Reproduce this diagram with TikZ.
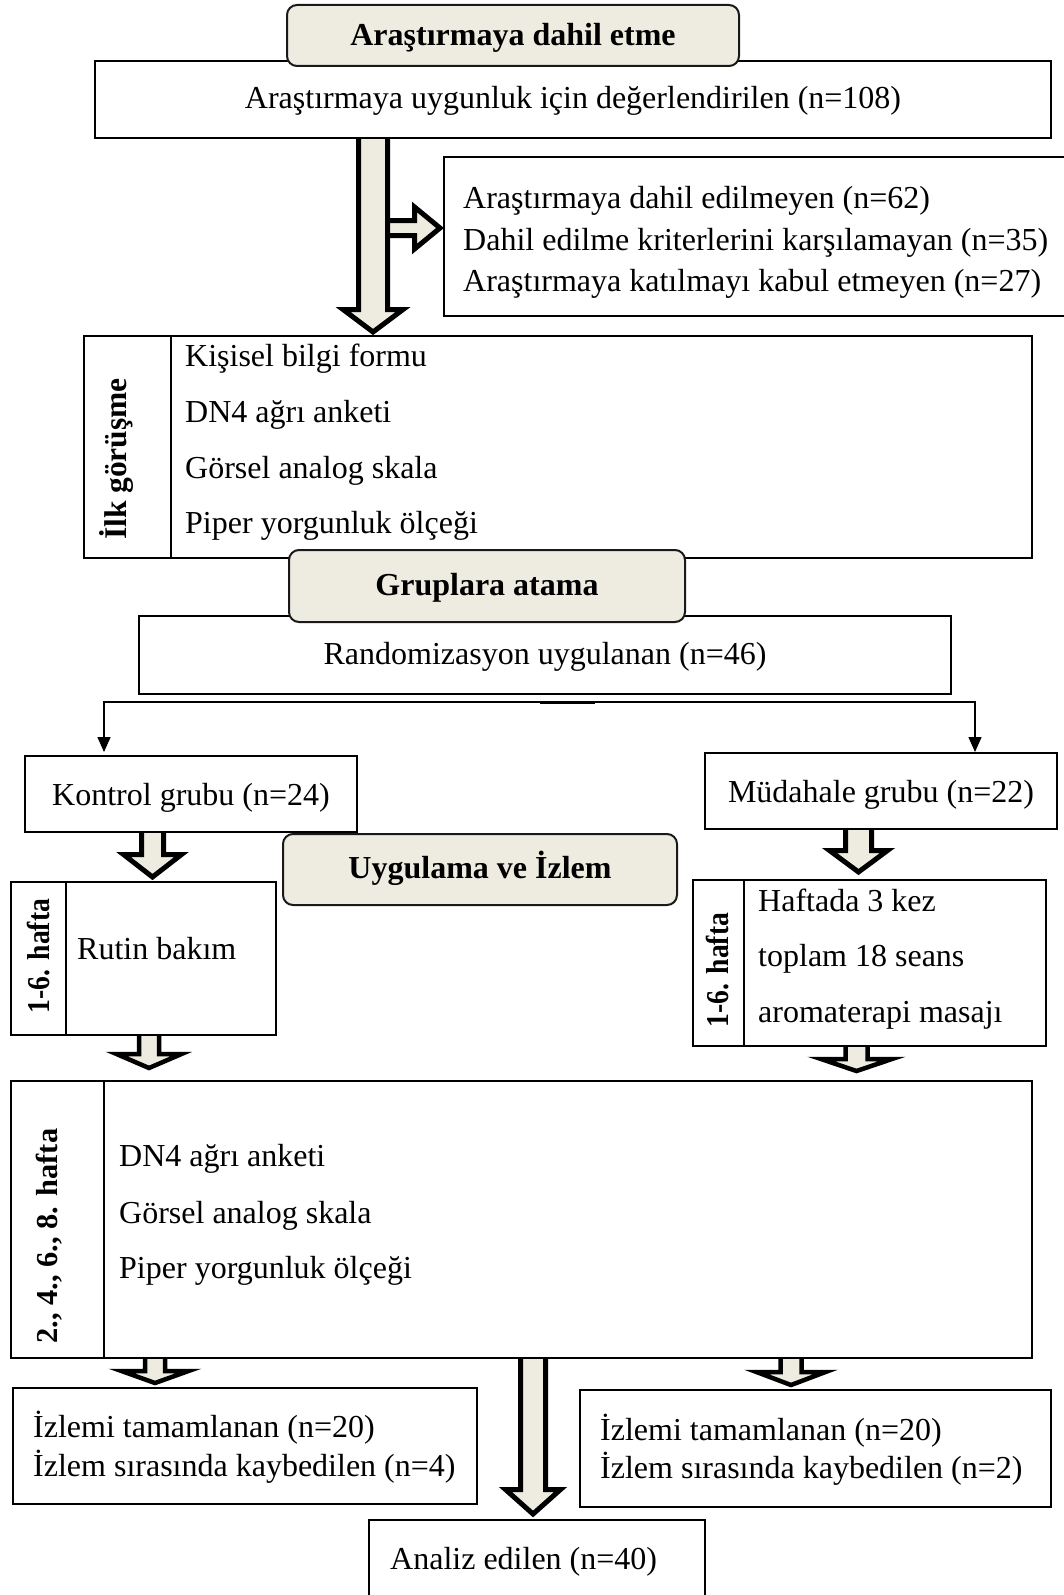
\documentclass[tikz,border=0pt]{standalone}
\usepackage{fontspec}
\setmainfont{Liberation Serif}
\usetikzlibrary{arrows.meta,calc}
\definecolor{beige}{RGB}{238,236,225}
\pgfdeclarelayer{bg}
\pgfsetlayers{bg,main}
\tikzset{
  box/.style={draw=black, line width=2pt, fill=white, rectangle, inner sep=0pt},
  hdr/.style={draw=black!90, line width=2pt, fill=beige, rounded corners=10pt, rectangle, inner sep=0pt},
  txt/.style={inner sep=0pt, text height=24pt, text depth=6pt, font=\fontsize{32}{36}\selectfont},
  btxt/.style={inner sep=0pt, text height=24pt, text depth=6pt, font=\fontsize{32}{36}\selectfont\bfseries},
  vtxt/.style={inner sep=0pt, text height=22pt, text depth=6pt, rotate=90},
  barrow/.style={draw=black, line width=5pt, fill=beige, miter limit=10},
  sbarrow/.style={draw=black, line width=4.5pt, fill=beige, miter limit=10},
  conn/.style={draw=black, line width=1.5pt},
  divl/.style={draw=black, line width=2pt},
}
\newcommand\mkbox[6]{\node[#6, anchor=north west, minimum width={(#4-#2)*1pt}, minimum height={(#5-#3)*1pt}] (#1) at (#2,#3) {};}
% block arrow pointing down: [style] #2 x, #3 source anchor, #4 target anchor, #5 gap, #6 shaft half, #7 head half, #8 head length
\newcommand\bdown[8][barrow]{%
  \path (#3 -| #2,0) coordinate (bdT) (#4 -| #2,0) coordinate (bdQ);
  \path ($(bdQ)+(0,-#5)$) coordinate (bdP);
  \filldraw[#1] ($(bdT)+(-#6,0)$) -- ($(bdP)+(-#6,-#8)$) -- ($(bdP)+(-#7,-#8)$) -- (bdP) -- ($(bdP)+(#7,-#8)$) -- ($(bdP)+(#6,-#8)$) -- ($(bdT)+(#6,0)$);}
% block arrow pointing right: #1 y, #2 source, #3 target, #4 gap, #5 shaft half, #6 head half, #7 head length
\newcommand\bright[7]{%
  \path (#2 |- 0,#1) coordinate (brT) (#3 |- 0,#1) coordinate (brQ);
  \path ($(brQ)+(-#4,0)$) coordinate (brP);
  \filldraw[barrow] ($(brT)+(0,-#5)$) -- ($(brP)+(-#7,-#5)$) -- ($(brP)+(-#7,-#6)$) -- (brP) -- ($(brP)+(-#7,#6)$) -- ($(brP)+(-#7,#5)$) -- ($(brT)+(0,#5)$);}
\begin{document}
\begin{tikzpicture}[x=1pt,y=-1pt]
\useasboundingbox (0,0) rectangle (1064,1595);
\clip (0,0) rectangle (1064,1595);

% boxes
\mkbox{box1}{94}{60}{1050}{137}{box}
\mkbox{h1}{286}{4}{738}{65}{hdr}
\mkbox{excl}{443}{156}{1068}{315}{box}
\mkbox{ilk}{83}{335}{1031}{557}{box}
\mkbox{rand}{138}{615}{950}{693}{box}
\mkbox{h2}{288}{549}{684}{621}{hdr}
\mkbox{kontrol}{24}{755}{356}{831}{box}
\mkbox{mud}{704}{752}{1056}{828}{box}
\mkbox{h3}{282}{833}{676}{904}{hdr}
\mkbox{hafL}{10}{881}{275}{1034}{box}
\mkbox{hafR}{692}{879}{1045}{1045}{box}
\mkbox{big}{10}{1080}{1031}{1357}{box}
\mkbox{sonL}{12}{1387}{476}{1503}{box}
\mkbox{sonR}{579}{1389}{1050}{1506}{box}
\mkbox{analiz}{368}{1519}{704}{1625}{box}

% column dividers
\draw[divl] (171,0 |- ilk.north) -- (171,0 |- ilk.south);
\draw[divl] (66,0 |- hafL.north) -- (66,0 |- hafL.south);
\draw[divl] (744,0 |- hafR.north) -- (744,0 |- hafR.south);
\draw[divl] (104,0 |- big.north) -- (104,0 |- big.south);

% texts
\node[btxt] (h1t) at ($(h1.center)+(0,1)$) {Araştırmaya dahil etme};
\node[txt] (box1t) at (box1.center) {Araştırmaya uygunluk için değerlendirilen (n=108)};
\node[txt, anchor=west] (e1) at (463,199) {Araştırmaya dahil edilmeyen (n=62)};
\node[txt, anchor=west] (e2) at (463,241) {Dahil edilme kriterlerini karşılamayan (n=35)};
\node[txt, anchor=west] (e3) at (463,282) {Araştırmaya katılmayı kabul etmeyen (n=27)};

\node[vtxt, font=\fontsize{31.5}{36}\selectfont\bfseries] (ilkv) at (118,459) {İlk görüşme};
\node[txt, anchor=west] (i1) at (185,357) {Kişisel bilgi formu};
\node[txt, anchor=west] (i2) at (185,413) {DN4 ağrı anketi};
\node[txt, anchor=west] (i3) at (185,469) {Görsel analog skala};
\node[txt, anchor=west] (i4) at (185,524) {Piper yorgunluk ölçeği};

\node[btxt] (h2t) at (h2.center) {Gruplara atama};
\node[txt] (randt) at (rand.center) {Randomizasyon uygulanan (n=46)};
\node[txt] (kontrolt) at ($(kontrol.center)+(0,2)$) {Kontrol grubu (n=24)};
\node[txt] (mudt) at ($(mud.center)+(0,2)$) {Müdahale grubu (n=22)};
\node[btxt] (h3t) at (h3.center) {Uygulama ve İzlem};

\node[vtxt, font=\fontsize{27.6}{32}\selectfont\bfseries] (hafLv) at (41,956) {\scalebox{1}[1.15]{1-6. hafta}};
\node[txt, anchor=west] (rutin) at (77,950) {Rutin bakım};
\node[vtxt, font=\fontsize{27.6}{32}\selectfont\bfseries] (hafRv) at (720,970) {\scalebox{1}[1.15]{1-6. hafta}};
\node[txt, anchor=west] (r1) at (758,902) {Haftada 3 kez};
\node[txt, anchor=west] (r2) at (758,957) {toplam 18 seans};
\node[txt, anchor=west] (r3) at (758,1013) {aromaterapi masajı};

\node[vtxt, font=\fontsize{30.4}{34}\selectfont\bfseries] (bigv) at (49,1236) {2., 4., 6., 8. hafta};
\node[txt, anchor=west] (b1) at (119,1157) {DN4 ağrı anketi};
\node[txt, anchor=west] (b2) at (119,1214) {Görsel analog skala};
\node[txt, anchor=west] (b3) at (119,1269) {Piper yorgunluk ölçeği};

\node[txt, anchor=west] (sl1) at (33,1428) {İzlemi tamamlanan (n=20)};
\node[txt, anchor=west] (sl2) at (33,1467) {İzlem sırasında kaybedilen (n=4)};
\node[txt, anchor=west] (sr1) at (600,1431) {İzlemi tamamlanan (n=20)};
\node[txt, anchor=west] (sr2) at (600,1469) {İzlem sırasında kaybedilen (n=2)};
\node[txt, anchor=west] (an) at (390,1560) {Analiz edilen (n=40)};

% tree connector
\coordinate (split) at (567,702);
\draw[conn, -{Triangle[width=13pt,length=15pt]}] (split) -| ($(kontrol.north -| 104,0)+(0,-3)$);
\draw[conn, -{Triangle[width=13pt,length=15pt]}] (split) -| (mud.north -| 975,0);
\draw[line width=3pt] ($(split)+(-27,0.8)$) -- ($(split)+(28,0.8)$);

% block arrows
\coordinate (a1wall) at (387.5,0);
\begin{pgfonlayer}{bg}
\bright{228}{a1wall}{excl.west}{3}{7.5}{21}{25.5}
\bdown{373}{box1.south}{ilk.north}{3}{14.5}{30}{22.5}
\bdown{152.5}{kontrol.south}{hafL.north}{4}{11}{29}{22.5}
\bdown{858.5}{mud.south}{hafR.north}{7}{13}{29}{21.5}
\bdown[sbarrow]{149}{hafL.south}{big.north}{12}{10}{32.5}{14}
\bdown[sbarrow]{856.5}{hafR.south}{big.north}{9}{11}{35.5}{12}
\bdown[sbarrow]{155}{big.south}{sonL.north}{4}{10}{33.5}{12}
\bdown{533}{big.south}{analiz.north}{5}{12.5}{27.5}{24.5}
\bdown[sbarrow]{791}{big.south}{sonR.north}{4}{10.5}{34.5}{13}
\end{pgfonlayer}
\end{tikzpicture}
\end{document}
